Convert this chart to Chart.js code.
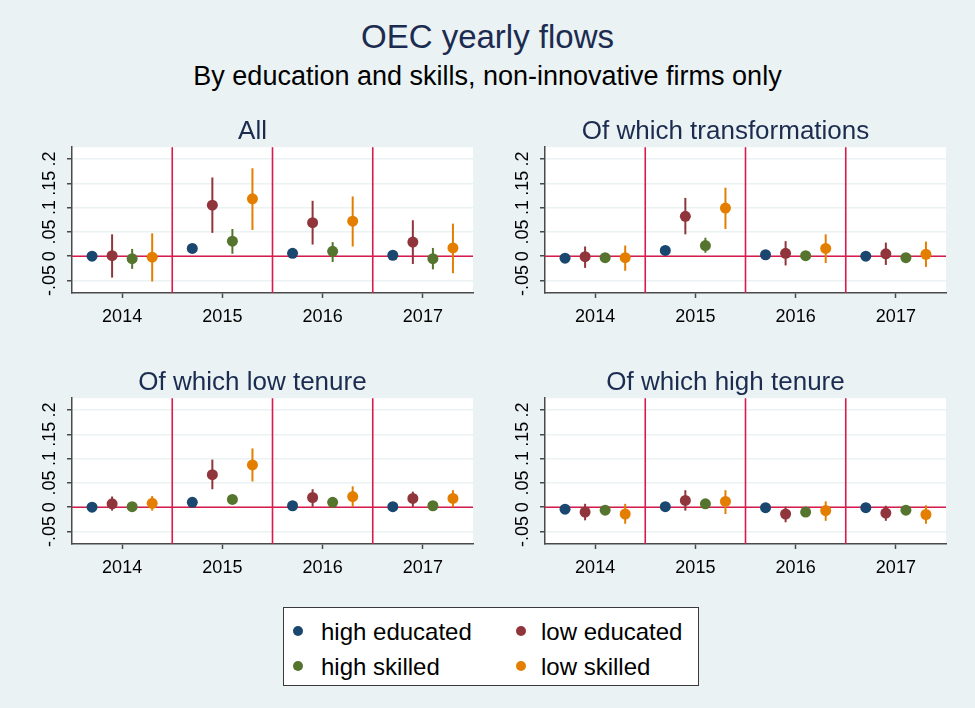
<!DOCTYPE html>
<html>
<head>
<meta charset="utf-8">
<script src="https://cdn.jsdelivr.net/npm/chart.js@4.4.1/dist/chart.umd.min.js"></script>
<style>
  body { margin: 0; background: #eaf2f3; font-family: "Liberation Sans", Arial, sans-serif; }
  #wrap { position: relative; width: 975px; height: 708px; overflow: hidden; }
  .head { position: absolute; left: 0; width: 975px; text-align: center; white-space: nowrap; }
  canvas { position: absolute; }
  #legend { position: absolute; left: 283px; top: 607px; width: 416px; height: 79px;
            box-sizing: border-box; border: 1px solid #3a3a3a; background: #fff; }
  .dot { position: absolute; width: 10px; height: 10px; border-radius: 50%; }
  .lab { position: absolute; font-size: 24px; line-height: 30px; color: #000; white-space: nowrap; }
</style>
</head>
<body>
<div id="wrap">
  <div class="head" style="top:18px;font-size:33px;line-height:38px;color:#1c2c51">OEC yearly flows</div>
  <div class="head" style="top:61px;font-size:27px;line-height:31px;color:#000">By education and skills, non-innovative firms only</div>
  <canvas id="c0" width="487" height="223" style="left:0;top:110px"></canvas>
  <canvas id="c1" width="487" height="223" style="left:473px;top:110px"></canvas>
  <canvas id="c2" width="487" height="223" style="left:0;top:361px"></canvas>
  <canvas id="c3" width="487" height="223" style="left:473px;top:361px"></canvas>
  <div id="legend"></div>
</div>
<script>
// categories
const years = [2014, 2015, 2016, 2017];
const groups = ['high educated', 'low educated', 'high skilled', 'low skilled'];
const panelTitles = ['All', 'Of which transformations', 'Of which low tenure', 'Of which high tenure'];
const yTickValues = [-0.05, 0, 0.05, 0.1, 0.15, 0.2];
const yTickLabels = ['-.05', '0', '.05', '.1', '.15', '.2'];
const yearBreaks = [2014.5, 2015.5, 2016.5];

// estimates, one row per group (high edu, low edu, high skilled, low skilled), one value per year
const allEst = [[0.000, 0.016, 0.006, 0.002], [0.001, 0.105, 0.069, 0.029], [-0.005, 0.031, 0.010, -0.005], [-0.002, 0.118, 0.072, 0.017]];
const allLo  = [[-0.004, 0.008, 0.001, -0.002], [-0.044, 0.048, 0.024, -0.016], [-0.026, 0.005, -0.012, -0.027], [-0.052, 0.054, 0.020, -0.035]];
const allHi  = [[0.004, 0.024, 0.011, 0.006], [0.045, 0.162, 0.114, 0.074], [0.015, 0.056, 0.029, 0.017], [0.047, 0.181, 0.123, 0.067]];

const transEst = [[-0.004, 0.012, 0.003, 0.000], [-0.001, 0.082, 0.006, 0.005], [-0.003, 0.022, 0.001, -0.003], [-0.003, 0.099, 0.016, 0.004]];
const transLo  = [[-0.008, 0.007, -0.001, -0.004], [-0.024, 0.045, -0.019, -0.018], [-0.007, 0.007, -0.003, -0.007], [-0.030, 0.056, -0.014, -0.022]];
const transHi  = [[0.000, 0.017, 0.007, 0.004], [0.020, 0.120, 0.031, 0.028], [0.001, 0.038, 0.005, 0.001], [0.022, 0.141, 0.045, 0.030]];

const lowTenEst = [[0.000, 0.010, 0.003, 0.001], [0.007, 0.067, 0.020, 0.018], [0.001, 0.016, 0.010, 0.003], [0.008, 0.087, 0.022, 0.018]];
const lowTenLo  = [[-0.004, 0.006, -0.001, -0.003], [-0.007, 0.037, 0.001, 0.001], [-0.003, 0.012, 0.006, -0.001], [-0.007, 0.053, 0.001, 0.000]];
const lowTenHi  = [[0.004, 0.014, 0.007, 0.005], [0.022, 0.098, 0.037, 0.032], [0.005, 0.020, 0.014, 0.007], [0.023, 0.121, 0.043, 0.035]];

const highTenEst = [[-0.004, 0.001, -0.001, -0.001], [-0.010, 0.014, -0.014, -0.012], [-0.006, 0.007, -0.010, -0.006], [-0.014, 0.012, -0.007, -0.015]];
const highTenLo  = [[-0.008, -0.003, -0.005, -0.005], [-0.027, -0.007, -0.031, -0.028], [-0.010, 0.003, -0.014, -0.010], [-0.034, -0.014, -0.028, -0.034]];
const highTenHi  = [[0.000, 0.005, 0.003, 0.003], [0.007, 0.035, 0.001, 0.003], [-0.002, 0.011, -0.006, -0.002], [0.007, 0.035, 0.012, 0.004]];

// style
const groupColors = ['#1a476f', '#90353b', '#55752f', '#e37e00'];
const groupOffset = [-0.3, -0.1, 0.1, 0.3];
const refColor = '#d91a4c';
const titleColor = '#1c2c51';
const font = '"Liberation Sans", Arial, sans-serif';

const panels = [
  [allEst, allLo, allHi],
  [transEst, transLo, transHi],
  [lowTenEst, lowTenLo, lowTenHi],
  [highTenEst, highTenLo, highTenHi]
];

// white plot region, red reference lines and confidence bars under the dots
const panelMarks = {
  id: 'panelMarks',
  beforeDraw(chart) {
    const a = chart.chartArea, ctx = chart.ctx;
    ctx.save();
    ctx.fillStyle = '#fff';
    ctx.fillRect(a.left, a.top, a.right - a.left, a.bottom - a.top);
    ctx.restore();
  },
  beforeDatasetsDraw(chart) {
    const a = chart.chartArea, ctx = chart.ctx;
    const xs = chart.scales.x, ys = chart.scales.y;
    ctx.save();
    ctx.strokeStyle = refColor;
    ctx.lineWidth = 1.6;
    yearBreaks.forEach(v => {
      const px = xs.getPixelForValue(v);
      ctx.beginPath(); ctx.moveTo(px, a.top); ctx.lineTo(px, a.bottom); ctx.stroke();
    });
    const py0 = ys.getPixelForValue(0);
    ctx.beginPath(); ctx.moveTo(a.left, py0); ctx.lineTo(a.right, py0); ctx.stroke();

    ctx.lineWidth = 2;
    chart.data.datasets.forEach(ds => {
      ctx.strokeStyle = ds.pointBackgroundColor;
      ds.data.forEach((p, i) => {
        const px = xs.getPixelForValue(p.x);
        ctx.beginPath();
        ctx.moveTo(px, ys.getPixelForValue(ds.lo[i]));
        ctx.lineTo(px, ys.getPixelForValue(ds.hi[i]));
        ctx.stroke();
      });
    });
    ctx.restore();
  }
};

panels.forEach(([est, lo, hi], k) => {
  const datasets = groups.map((g, gi) => ({
    label: g,
    data: years.map((yr, i) => ({ x: yr + groupOffset[gi], y: est[gi][i] })),
    lo: lo[gi],
    hi: hi[gi],
    pointRadius: 5.5,
    pointHoverRadius: 5.5,
    pointBorderWidth: 0,
    pointBackgroundColor: groupColors[gi],
    backgroundColor: groupColors[gi]
  }));

  new Chart(document.getElementById('c' + k), {
    type: 'scatter',
    data: { datasets: datasets },
    plugins: [panelMarks],
    options: {
      responsive: false,
      animation: false,
      layout: { padding: { left: 32, right: 14, top: 6, bottom: 0 } },
      plugins: {
        legend: { display: false },
        tooltip: { enabled: false },
        title: {
          display: true,
          text: panelTitles[k],
          color: titleColor,
          font: { family: font, size: 26, weight: 'normal' },
          padding: { top: 0, bottom: 0 }
        }
      },
      scales: {
        x: {
          type: 'linear',
          min: 2013.5,
          max: 2017.5,
          afterBuildTicks: axis => { axis.ticks = years.map(v => ({ value: v })); },
          afterFit: axis => { axis.height = 40; },
          ticks: {
            callback: v => String(v),
            color: '#000',
            font: { family: font, size: 18 },
            padding: 8,
            maxRotation: 0,
            autoSkip: false
          },
          grid: { drawOnChartArea: false, tickLength: 5, tickColor: '#4a4a4a', tickWidth: 1.5 },
          border: { color: '#4a4a4a', width: 1.5 }
        },
        y: {
          min: -0.0757,
          max: 0.2243,
          afterBuildTicks: axis => { axis.ticks = yTickValues.map(v => ({ value: v })); },
          afterFit: axis => { axis.width = 40; },
          ticks: {
            callback: (v, i) => yTickLabels[i],
            color: '#000',
            font: { family: font, size: 18 },
            minRotation: 90,
            maxRotation: 90,
            crossAlign: 'center',
            padding: 1,
            autoSkip: false
          },
          grid: { color: '#eaf2f3', lineWidth: 1.5, tickLength: 5, tickColor: '#4a4a4a', tickWidth: 1.5 },
          border: { color: '#4a4a4a', width: 1.5 }
        }
      }
    }
  });
});

// legend
const legendPos = [[0, 0], [1, 0], [0, 1], [1, 1]];
const legendEl = document.getElementById('legend');
groups.forEach((g, gi) => {
  const [col, row] = legendPos[gi];
  const dot = document.createElement('div');
  dot.className = 'dot';
  dot.style.background = groupColors[gi];
  dot.style.left = (9 + col * 223) + 'px';
  dot.style.top = (18 + row * 35) + 'px';
  legendEl.appendChild(dot);
  const lab = document.createElement('div');
  lab.className = 'lab';
  lab.textContent = g;
  lab.style.left = (37 + col * 220) + 'px';
  lab.style.top = (9 + row * 35) + 'px';
  legendEl.appendChild(lab);
});
</script>
</body>
</html>
